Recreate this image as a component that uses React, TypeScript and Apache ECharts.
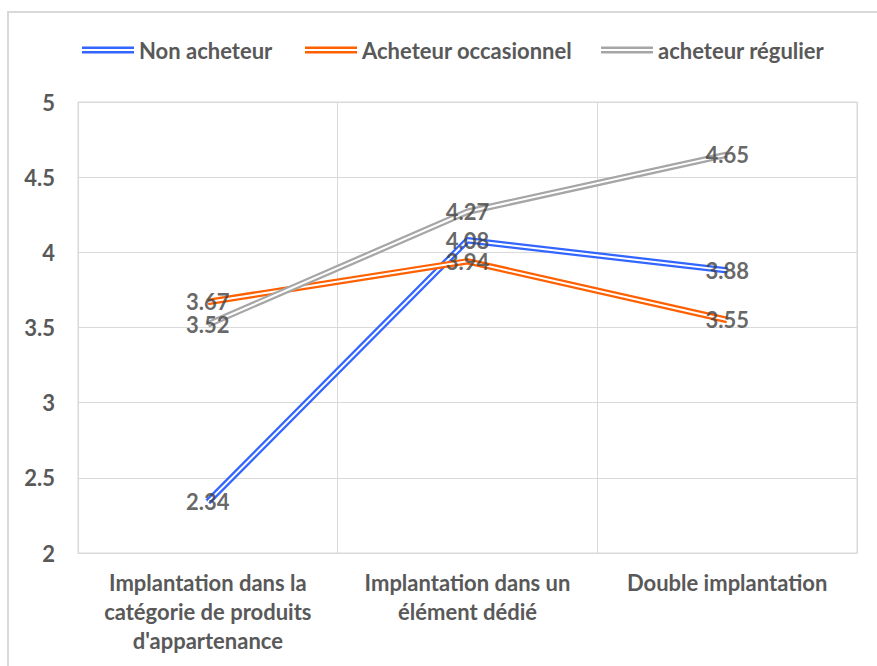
import React, { useEffect, useRef } from "react";
import * as echarts from "echarts";

const categories = [
  "Implantation dans la\ncatégorie de produits\nd'appartenance",
  "Implantation dans un\nélément dédié",
  "Double implantation",
];
const seriesNames = ["Non acheteur", "Acheteur occasionnel", "acheteur régulier"];
const nonAcheteur = [2.34, 4.08, 3.88];
const occasionnel = [3.67, 3.94, 3.55];
const regulier = [3.52, 4.27, 4.65];
const colors = ["#3366FF", "#FF6000", "#A6A6A6"];
const yTicks = { min: 2, max: 5, interval: 0.5 };

const FONT = "Lato, 'Open Sans', sans-serif";
const FS = 22;

export default function App() {
  const ref = useRef<HTMLDivElement>(null);
  useEffect(() => {
    document.body.style.margin = "0";
    const chart = echarts.init(ref.current!, null, { renderer: "svg" });
    const datasets = [nonAcheteur, occasionnel, regulier];
    const series: any[] = [];
    datasets.forEach((d, i) => {
      series.push({
        name: seriesNames[i],
        type: "line",
        data: d,
        symbol: "none",
        lineStyle: { color: colors[i], width: 6.5 },
        itemStyle: { color: colors[i] },
        z: 2 + i * 2,
      });
      series.push({
        name: seriesNames[i] + "_inner",
        type: "line",
        data: d,
        symbol: "none",
        lineStyle: { color: "#FFFFFF", width: 2 },
        itemStyle: { color: "#FFFFFF" },
        z: 3 + i * 2,
      });
    });
    datasets.forEach((d, i) => {
      series.push({
        name: seriesNames[i] + "_label",
        type: "scatter",
        data: d,
        symbolSize: 1,
        itemStyle: { color: "rgba(0,0,0,0)" },
        z: 20,
        label: {
          show: true,
          position: "inside",
          color: "#404040",
          fontFamily: FONT,
          fontWeight: "bold",
          fontSize: FS,
          formatter: (p: any) => p.value.toFixed(2),
        },
      });
    });
    const iconPath = "path://M0,0H50V2.4H0Z M0,4.2H50V6.6H0Z";
    const legendLefts = [77, 300, 596];
    chart.setOption({
      animation: false,
      backgroundColor: "#FFFFFF",
      graphic: [
        {
          type: "rect",
          shape: { x: 8, y: 12, width: 900, height: 700 },
          style: { fill: "none", stroke: "#D9D9D9", lineWidth: 2 },
          z: 0,
        },
      ],
      legend: seriesNames.map((n, i) => ({
        data: [{ name: n, icon: iconPath, itemStyle: { color: colors[i] } }],
        left: legendLefts[i],
        top: 34,
        itemWidth: 52,
        itemHeight: 7,
        textStyle: {
          color: "#595959",
          fontFamily: FONT,
          fontWeight: "bold",
          fontSize: FS,
        },
      })),
      grid: {
        left: 78,
        top: 102,
        width: 779,
        height: 451,
        show: true,
        borderColor: "#D9D9D9",
        borderWidth: 1,
        containLabel: false,
      },
      xAxis: {
        type: "category",
        data: categories,
        boundaryGap: true,
        axisLine: { show: true, lineStyle: { color: "#D9D9D9" } },
        axisTick: { show: false },
        splitLine: { show: true, lineStyle: { color: "#D9D9D9", width: 1 } },
        axisLabel: {
          color: "#595959",
          fontFamily: FONT,
          fontWeight: "bold",
          fontSize: FS,
          lineHeight: 29,
          margin: 15,
          interval: 0,
          align: "center",
        },
      },
      yAxis: {
        type: "value",
        min: yTicks.min,
        max: yTicks.max,
        interval: yTicks.interval,
        axisLine: { show: false },
        axisTick: { show: false },
        splitLine: { show: true, lineStyle: { color: "#D9D9D9", width: 1 } },
        axisLabel: {
          color: "#595959",
          fontFamily: FONT,
          fontWeight: "bold",
          fontSize: FS,
          margin: 23,
        },
      },
      series,
    });
    return () => chart.dispose();
  }, []);
  return <div ref={ref} style={{ width: 877, height: 666 }} />;
}
